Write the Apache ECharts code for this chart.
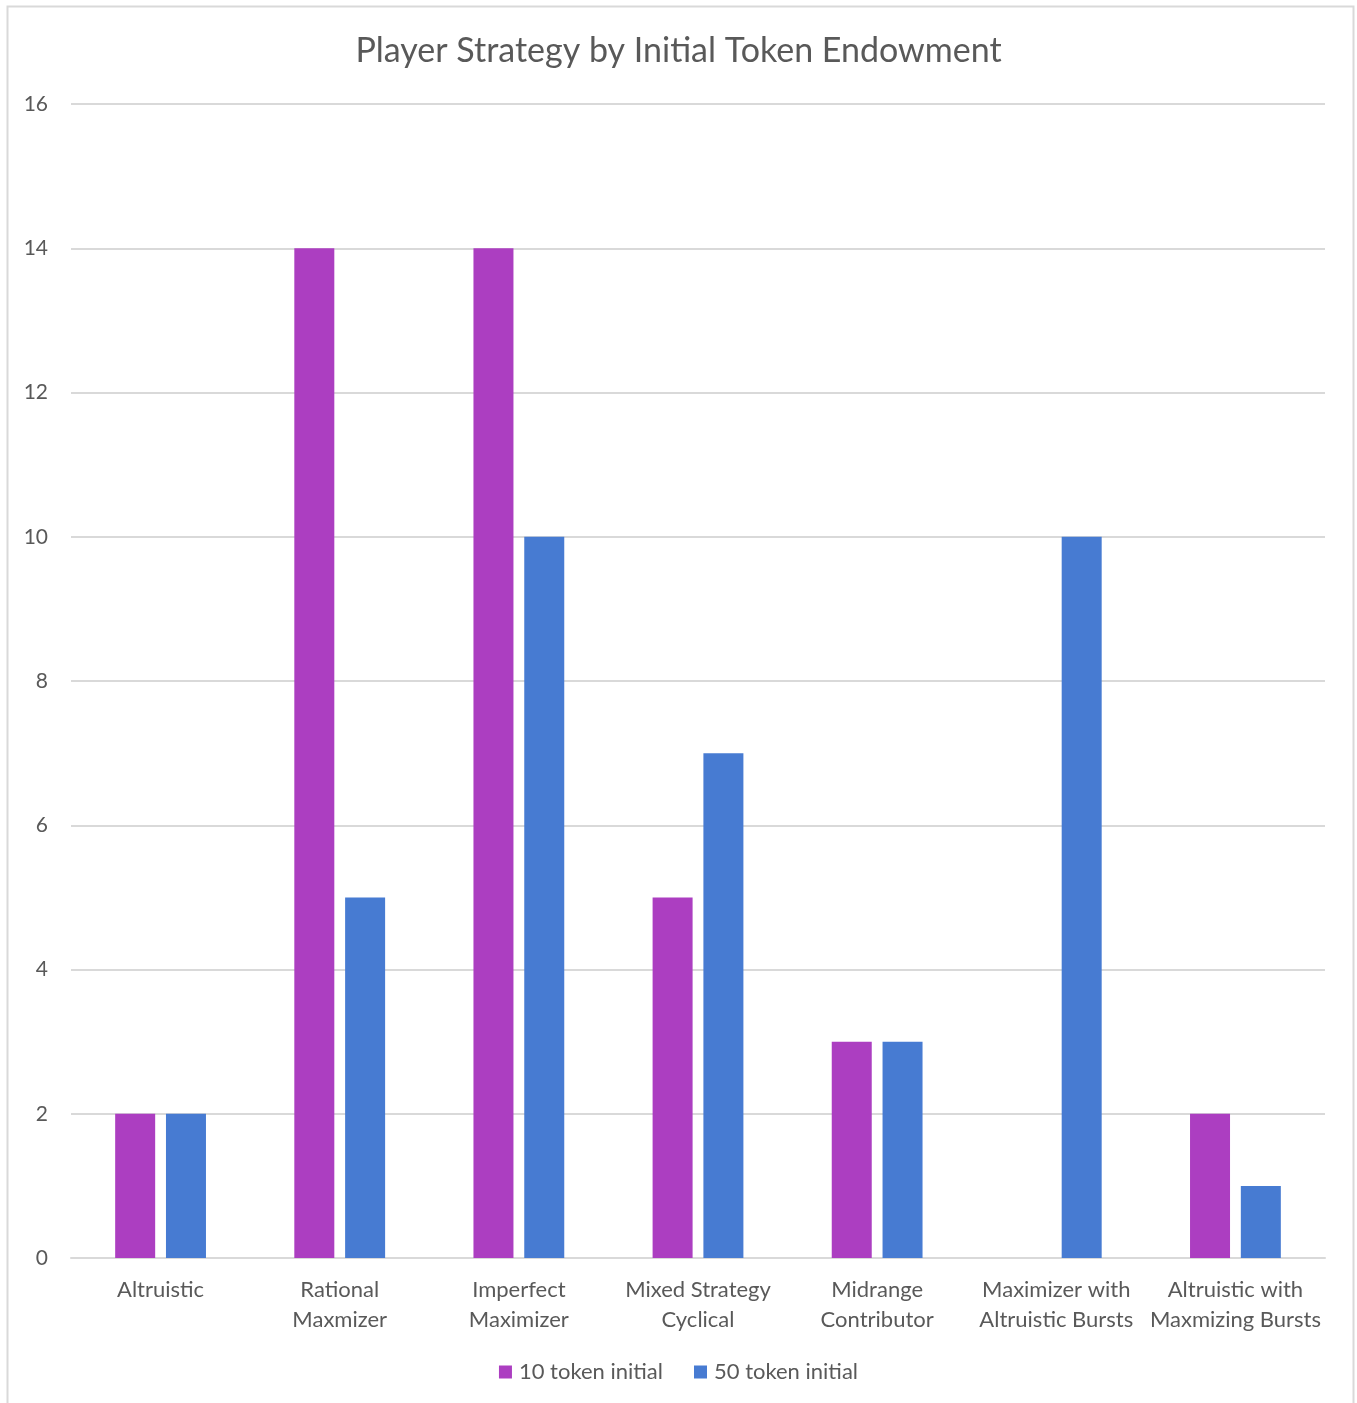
<!DOCTYPE html>
<html>
<head>
<meta charset="utf-8">
<script src="https://cdn.jsdelivr.net/npm/echarts@6/dist/echarts.min.js"></script>
<style>
  html, body { margin: 0; padding: 0; background: #fff; }
  #chart { width: 1357px; height: 1403px; }
</style>
</head>
<body>
<div id="chart"></div>
<script>
// categories and values
const categories = [
    'Altruistic',
    'Rational\nMaxmizer',
    'Imperfect\nMaximizer',
    'Mixed Strategy\nCyclical',
    'Midrange\nContributor',
    'Maximizer with\nAltruistic Bursts',
    'Altruistic with\nMaxmizing Bursts'
];
const tokens10 = [2, 14, 14, 5, 3, 0, 2];
const tokens50 = [2, 5, 10, 7, 3, 10, 1];
const seriesNames = ['10 token initial', '50 token initial'];

const textColor = '#595959';
const font = 'Lato, "Open Sans", sans-serif';

const chart = echarts.init(document.getElementById('chart'));
chart.setOption({
    backgroundColor: '#fff',
    animation: false,
    title: {
        text: 'Player Strategy by Initial Token Endowment',
        left: 'center',
        top: 29,
        textStyle: { color: textColor, fontSize: 34, fontWeight: 'normal', fontFamily: font }
    },
    graphic: [{
        type: 'rect',
        shape: { x: 7.5, y: 6.5, width: 1346, height: 1420 },
        style: { fill: 'none', stroke: '#d9d9d9', lineWidth: 2 },
        silent: true
    }],
    legend: {
        data: seriesNames,
        bottom: 15,
        left: 'center',
        itemWidth: 13,
        itemHeight: 13,
        itemGap: 31,
        icon: 'rect',
        textStyle: { color: textColor, fontSize: 22, fontFamily: font, padding: [0, 0, 0, 2] }
    },
    grid: { left: 71, right: 32, top: 104, bottom: 145, containLabel: false },
    xAxis: {
        type: 'category',
        data: categories,
        axisLine: { lineStyle: { color: '#d9d9d9', width: 2 } },
        axisTick: { show: false },
        axisLabel: {
            color: textColor, fontSize: 22, fontFamily: font,
            lineHeight: 30, margin: 17, interval: 0
        }
    },
    yAxis: {
        type: 'value',
        min: 0,
        max: 16,
        interval: 2,
        axisLine: { show: false },
        axisTick: { show: false },
        axisLabel: { color: textColor, fontSize: 21, fontFamily: font, margin: 23 },
        splitLine: { lineStyle: { color: '#d9d9d9', width: 2 } }
    },
    series: [
        {
            name: seriesNames[0],
            type: 'bar',
            data: tokens10,
            barWidth: 40,
            barGap: '27%',
            itemStyle: { color: '#ac3ec1' }
        },
        {
            name: seriesNames[1],
            type: 'bar',
            data: tokens50,
            barWidth: 40,
            itemStyle: { color: '#477bd2' }
        }
    ]
});
</script>
</body>
</html>
